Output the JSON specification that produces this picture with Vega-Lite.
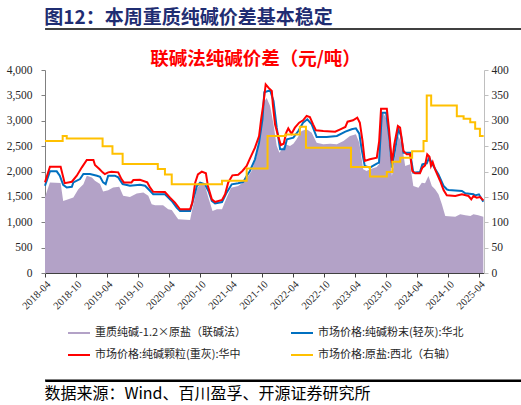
{
  "$schema": "https://vega.github.io/schema/vega-lite/v6.json",
  "padding": {"left": 6, "top": 8, "right": 4, "bottom": 4},
  "columns": 1,
  "align": "none",
  "spacing": 18,
  "resolve": {"scale": {"color": "independent", "y": "independent"}, "legend": {"color": "independent"}},
  "config": {
    "view": {"stroke": null},
    "font": "Noto Sans CJK SC",
    "title": {"font": "Noto Sans CJK SC"},
    "axis": {"labelFont": "Liberation Serif", "labelColor": "#262626", "grid": false, "tickSize": 4}
  },
  "datasets": {
    "heavy": [
      {"d": "2018-04-01", "v": 1500}, {"d": "2018-04-30", "v": 1785}, {"d": "2018-07-02", "v": 1771}, {"d": "2018-07-17", "v": 1421},
      {"d": "2018-08-16", "v": 1454}, {"d": "2018-09-15", "v": 1487}, {"d": "2018-10-14", "v": 1652}, {"d": "2018-11-13", "v": 1751},
      {"d": "2018-12-03", "v": 1917}, {"d": "2019-01-02", "v": 1884}, {"d": "2019-01-20", "v": 1818}, {"d": "2019-02-19", "v": 1752},
      {"d": "2019-03-09", "v": 1606}, {"d": "2019-04-08", "v": 1633}, {"d": "2019-05-07", "v": 1686}, {"d": "2019-06-12", "v": 1699},
      {"d": "2019-07-05", "v": 1520}, {"d": "2019-08-14", "v": 1500}, {"d": "2019-09-23", "v": 1567}, {"d": "2019-11-01", "v": 1586},
      {"d": "2019-11-30", "v": 1520}, {"d": "2019-12-20", "v": 1355}, {"d": "2020-01-09", "v": 1333}, {"d": "2020-02-25", "v": 1333},
      {"d": "2020-03-26", "v": 1254}, {"d": "2020-04-16", "v": 1241}, {"d": "2020-05-24", "v": 1057}, {"d": "2020-08-02", "v": 1044},
      {"d": "2020-08-15", "v": 1254}, {"d": "2020-09-11", "v": 1649}, {"d": "2020-10-06", "v": 1793}, {"d": "2020-10-29", "v": 1714},
      {"d": "2020-11-18", "v": 1484}, {"d": "2020-12-12", "v": 1222}, {"d": "2021-01-07", "v": 1254}, {"d": "2021-02-06", "v": 1254},
      {"d": "2021-03-05", "v": 1484}, {"d": "2021-03-31", "v": 1681}, {"d": "2021-05-12", "v": 1714}, {"d": "2021-06-21", "v": 1813},
      {"d": "2021-07-30", "v": 2010}, {"d": "2021-08-29", "v": 2305}, {"d": "2021-09-24", "v": 2896}, {"d": "2021-10-07", "v": 3356},
      {"d": "2021-10-27", "v": 3450}, {"d": "2021-11-16", "v": 3290}, {"d": "2021-12-06", "v": 2929}, {"d": "2021-12-25", "v": 2502},
      {"d": "2022-01-10", "v": 2371}, {"d": "2022-01-24", "v": 2437}, {"d": "2022-02-13", "v": 2535}, {"d": "2022-03-13", "v": 2502},
      {"d": "2022-04-02", "v": 2548}, {"d": "2022-04-21", "v": 2634}, {"d": "2022-05-20", "v": 2798}, {"d": "2022-06-19", "v": 2831},
      {"d": "2022-07-19", "v": 2765}, {"d": "2022-08-17", "v": 2568}, {"d": "2022-09-25", "v": 2535}, {"d": "2022-11-05", "v": 2548},
      {"d": "2022-12-14", "v": 2535}, {"d": "2023-01-22", "v": 2601}, {"d": "2023-03-01", "v": 2700}, {"d": "2023-04-05", "v": 2732},
      {"d": "2023-04-25", "v": 2568}, {"d": "2023-05-18", "v": 2043}, {"d": "2023-06-07", "v": 2010}, {"d": "2023-06-26", "v": 2043},
      {"d": "2023-08-06", "v": 2089}, {"d": "2023-08-19", "v": 2141}, {"d": "2023-08-31", "v": 3050}, {"d": "2023-09-14", "v": 3150},
      {"d": "2023-10-04", "v": 3020}, {"d": "2023-10-17", "v": 2502}, {"d": "2023-11-03", "v": 1911}, {"d": "2023-11-22", "v": 2305},
      {"d": "2023-12-11", "v": 2700}, {"d": "2024-01-01", "v": 2535}, {"d": "2024-01-20", "v": 2108}, {"d": "2024-02-18", "v": 2141},
      {"d": "2024-03-08", "v": 1714}, {"d": "2024-04-07", "v": 1681}, {"d": "2024-04-27", "v": 1780}, {"d": "2024-05-16", "v": 1767},
      {"d": "2024-06-05", "v": 1911}, {"d": "2024-06-25", "v": 1714}, {"d": "2024-07-14", "v": 1649}, {"d": "2024-08-03", "v": 1550},
      {"d": "2024-08-23", "v": 1353}, {"d": "2024-09-12", "v": 1123}, {"d": "2024-11-10", "v": 1110}, {"d": "2024-12-09", "v": 1156},
      {"d": "2025-01-08", "v": 1136}, {"d": "2025-02-07", "v": 1123}, {"d": "2025-02-25", "v": 1156}, {"d": "2025-03-25", "v": 1136},
      {"d": "2025-04-24", "v": 1110}
    ],
    "light": [
      {"d": "2018-04-01", "v": 1719}, {"d": "2018-04-30", "v": 2003}, {"d": "2018-06-09", "v": 2003}, {"d": "2018-06-27", "v": 1917},
      {"d": "2018-07-17", "v": 1738}, {"d": "2018-08-07", "v": 1686}, {"d": "2018-09-06", "v": 1699}, {"d": "2018-09-15", "v": 1785},
      {"d": "2018-10-24", "v": 1851}, {"d": "2018-11-13", "v": 1950}, {"d": "2018-12-22", "v": 1950}, {"d": "2019-02-01", "v": 1917},
      {"d": "2019-02-19", "v": 1897}, {"d": "2019-03-09", "v": 1785}, {"d": "2019-03-24", "v": 1752}, {"d": "2019-04-08", "v": 1917},
      {"d": "2019-05-17", "v": 1917}, {"d": "2019-06-06", "v": 1884}, {"d": "2019-07-02", "v": 1752}, {"d": "2019-08-14", "v": 1719},
      {"d": "2019-10-12", "v": 1738}, {"d": "2019-11-11", "v": 1719}, {"d": "2019-12-10", "v": 1620}, {"d": "2019-12-29", "v": 1553},
      {"d": "2020-03-07", "v": 1550}, {"d": "2020-04-16", "v": 1419}, {"d": "2020-05-15", "v": 1287}, {"d": "2020-06-04", "v": 1222},
      {"d": "2020-08-02", "v": 1222}, {"d": "2020-08-21", "v": 1452}, {"d": "2020-09-11", "v": 1714}, {"d": "2020-09-30", "v": 1780},
      {"d": "2020-10-29", "v": 1747}, {"d": "2020-11-18", "v": 1616}, {"d": "2020-12-08", "v": 1419}, {"d": "2020-12-27", "v": 1373},
      {"d": "2021-02-06", "v": 1399}, {"d": "2021-03-05", "v": 1583}, {"d": "2021-04-04", "v": 1747}, {"d": "2021-05-12", "v": 1767},
      {"d": "2021-06-11", "v": 1793}, {"d": "2021-07-01", "v": 1911}, {"d": "2021-07-20", "v": 2010}, {"d": "2021-08-19", "v": 2240},
      {"d": "2021-09-12", "v": 2568}, {"d": "2021-10-02", "v": 3028}, {"d": "2021-10-13", "v": 3560}, {"d": "2021-11-16", "v": 3600},
      {"d": "2021-12-06", "v": 3389}, {"d": "2021-12-25", "v": 2864}, {"d": "2022-01-14", "v": 2437}, {"d": "2022-02-08", "v": 2437},
      {"d": "2022-02-23", "v": 2634}, {"d": "2022-04-02", "v": 2667}, {"d": "2022-05-01", "v": 2798}, {"d": "2022-05-29", "v": 2962},
      {"d": "2022-06-23", "v": 3028}, {"d": "2022-07-19", "v": 2929}, {"d": "2022-08-17", "v": 2680}, {"d": "2022-10-15", "v": 2680},
      {"d": "2022-12-14", "v": 2700}, {"d": "2023-02-02", "v": 2785}, {"d": "2023-03-11", "v": 2831}, {"d": "2023-04-05", "v": 2850},
      {"d": "2023-04-25", "v": 2745}, {"d": "2023-05-09", "v": 2437}, {"d": "2023-05-27", "v": 2108}, {"d": "2023-06-26", "v": 2075},
      {"d": "2023-08-06", "v": 2154}, {"d": "2023-08-19", "v": 2174}, {"d": "2023-09-05", "v": 3159}, {"d": "2023-09-30", "v": 3159},
      {"d": "2023-10-17", "v": 2700}, {"d": "2023-11-03", "v": 2075}, {"d": "2023-11-22", "v": 2437}, {"d": "2023-12-11", "v": 2831},
      {"d": "2023-12-27", "v": 2700}, {"d": "2024-01-10", "v": 2371}, {"d": "2024-02-18", "v": 2371}, {"d": "2024-03-08", "v": 1977},
      {"d": "2024-04-16", "v": 1990}, {"d": "2024-04-30", "v": 2141}, {"d": "2024-05-26", "v": 2161}, {"d": "2024-06-09", "v": 2272},
      {"d": "2024-07-04", "v": 2108}, {"d": "2024-08-03", "v": 1944}, {"d": "2024-09-02", "v": 1714}, {"d": "2024-09-21", "v": 1649},
      {"d": "2024-10-01", "v": 1635}, {"d": "2024-12-19", "v": 1616}, {"d": "2025-01-08", "v": 1570}, {"d": "2025-02-25", "v": 1550},
      {"d": "2025-03-06", "v": 1530}, {"d": "2025-03-29", "v": 1550}, {"d": "2025-04-10", "v": 1484}, {"d": "2025-04-24", "v": 1406}
    ],
    "dense": [
      {"d": "2018-04-01", "v": 1785}, {"d": "2018-04-30", "v": 2095}, {"d": "2018-07-02", "v": 2095}, {"d": "2018-07-26", "v": 1771},
      {"d": "2018-09-06", "v": 1798}, {"d": "2018-10-05", "v": 1917}, {"d": "2018-11-04", "v": 2082}, {"d": "2018-12-03", "v": 2228},
      {"d": "2019-01-11", "v": 2228}, {"d": "2019-01-20", "v": 2128}, {"d": "2019-02-15", "v": 2049}, {"d": "2019-03-06", "v": 1983},
      {"d": "2019-03-19", "v": 1950}, {"d": "2019-04-08", "v": 1983}, {"d": "2019-04-27", "v": 1996}, {"d": "2019-06-06", "v": 1983},
      {"d": "2019-06-25", "v": 1851}, {"d": "2019-07-09", "v": 1785}, {"d": "2019-08-23", "v": 1785}, {"d": "2019-09-03", "v": 1831},
      {"d": "2019-10-12", "v": 1838}, {"d": "2019-11-24", "v": 1785}, {"d": "2019-12-10", "v": 1686}, {"d": "2019-12-29", "v": 1600},
      {"d": "2020-03-07", "v": 1596}, {"d": "2020-04-06", "v": 1484}, {"d": "2020-05-05", "v": 1386}, {"d": "2020-06-04", "v": 1254},
      {"d": "2020-08-02", "v": 1254}, {"d": "2020-08-15", "v": 1386}, {"d": "2020-09-01", "v": 1780}, {"d": "2020-09-17", "v": 1944},
      {"d": "2020-10-10", "v": 1997}, {"d": "2020-11-03", "v": 1964}, {"d": "2020-11-15", "v": 1714}, {"d": "2020-12-08", "v": 1452},
      {"d": "2020-12-27", "v": 1399}, {"d": "2021-02-06", "v": 1438}, {"d": "2021-02-24", "v": 1550}, {"d": "2021-03-14", "v": 1780},
      {"d": "2021-04-08", "v": 1924}, {"d": "2021-05-12", "v": 1937}, {"d": "2021-06-06", "v": 2010}, {"d": "2021-07-01", "v": 2108},
      {"d": "2021-07-20", "v": 2253}, {"d": "2021-08-19", "v": 2470}, {"d": "2021-09-12", "v": 2699}, {"d": "2021-09-24", "v": 3028},
      {"d": "2021-10-07", "v": 3323}, {"d": "2021-10-21", "v": 3717}, {"d": "2021-11-06", "v": 3652}, {"d": "2021-11-26", "v": 3586},
      {"d": "2021-12-02", "v": 3323}, {"d": "2021-12-15", "v": 2929}, {"d": "2022-01-05", "v": 2667}, {"d": "2022-01-18", "v": 2522},
      {"d": "2022-02-04", "v": 2548}, {"d": "2022-02-19", "v": 2765}, {"d": "2022-03-03", "v": 2850}, {"d": "2022-03-22", "v": 2745},
      {"d": "2022-04-11", "v": 2864}, {"d": "2022-05-06", "v": 2962}, {"d": "2022-05-29", "v": 3008}, {"d": "2022-06-19", "v": 3094},
      {"d": "2022-07-08", "v": 3074}, {"d": "2022-07-27", "v": 2929}, {"d": "2022-08-13", "v": 2811}, {"d": "2022-09-25", "v": 2798},
      {"d": "2022-12-04", "v": 2785}, {"d": "2023-01-03", "v": 2831}, {"d": "2023-02-02", "v": 2877}, {"d": "2023-02-15", "v": 2982},
      {"d": "2023-03-19", "v": 3008}, {"d": "2023-04-13", "v": 3061}, {"d": "2023-04-28", "v": 2962}, {"d": "2023-05-14", "v": 2601},
      {"d": "2023-05-27", "v": 2207}, {"d": "2023-06-26", "v": 2240}, {"d": "2023-08-06", "v": 2272}, {"d": "2023-08-20", "v": 2600},
      {"d": "2023-08-31", "v": 3238}, {"d": "2023-10-04", "v": 3238}, {"d": "2023-10-17", "v": 2831}, {"d": "2023-11-03", "v": 2161},
      {"d": "2023-11-17", "v": 2535}, {"d": "2023-12-08", "v": 2896}, {"d": "2023-12-21", "v": 2864}, {"d": "2024-01-10", "v": 2404},
      {"d": "2024-01-29", "v": 2338}, {"d": "2024-02-18", "v": 2338}, {"d": "2024-03-02", "v": 2010}, {"d": "2024-03-18", "v": 1964},
      {"d": "2024-04-16", "v": 1964}, {"d": "2024-04-30", "v": 2075}, {"d": "2024-05-16", "v": 2121}, {"d": "2024-05-29", "v": 2338},
      {"d": "2024-06-11", "v": 2292}, {"d": "2024-06-20", "v": 2108}, {"d": "2024-06-30", "v": 2187}, {"d": "2024-07-14", "v": 2043},
      {"d": "2024-08-13", "v": 1813}, {"d": "2024-09-02", "v": 1635}, {"d": "2024-09-21", "v": 1530}, {"d": "2024-11-10", "v": 1517},
      {"d": "2024-12-19", "v": 1550}, {"d": "2025-01-27", "v": 1517}, {"d": "2025-02-12", "v": 1451}, {"d": "2025-02-25", "v": 1517},
      {"d": "2025-03-16", "v": 1484}, {"d": "2025-04-05", "v": 1497}, {"d": "2025-04-24", "v": 1432}
    ],
    "salt": [
      {"d": "2018-04-01", "v": 260}, {"d": "2018-07-14", "v": 270}, {"d": "2018-08-07", "v": 265}, {"d": "2019-03-06", "v": 250},
      {"d": "2019-05-03", "v": 235}, {"d": "2019-07-02", "v": 215}, {"d": "2020-01-25", "v": 205}, {"d": "2020-03-07", "v": 194},
      {"d": "2020-04-16", "v": 175}, {"d": "2021-02-06", "v": 182}, {"d": "2021-07-01", "v": 206}, {"d": "2021-11-01", "v": 270},
      {"d": "2022-02-13", "v": 273}, {"d": "2022-05-10", "v": 288}, {"d": "2022-06-15", "v": 247}, {"d": "2023-03-07", "v": 209},
      {"d": "2023-06-27", "v": 190}, {"d": "2023-10-04", "v": 199}, {"d": "2023-11-06", "v": 219}, {"d": "2023-12-22", "v": 227},
      {"d": "2024-03-01", "v": 240}, {"d": "2024-05-07", "v": 260}, {"d": "2024-05-26", "v": 350}, {"d": "2024-06-21", "v": 330},
      {"d": "2024-11-19", "v": 309}, {"d": "2024-12-29", "v": 304}, {"d": "2025-02-06", "v": 297}, {"d": "2025-03-07", "v": 284},
      {"d": "2025-04-04", "v": 270}, {"d": "2025-04-26", "v": 270}
    ]
  },
  "concat": [
    {
      "width": 510,
      "height": 1,
      "view": {"stroke": "#404040", "strokeWidth": 1},
      "title": {"text": "图12：本周重质纯碱价差基本稳定", "anchor": "start", "fontSize": 19, "fontWeight": "bold", "color": "#1f2d72", "offset": 0},
      "data": {"values": [{"k": 0}]},
      "mark": {"type": "rule", "color": "#404040", "strokeWidth": 1.5},
      "encoding": {"y": {"field": "k", "type": "quantitative", "scale": {"domain": [0, 1]}, "axis": null}}
    },
    {
      "width": 439,
      "height": 203,
      "title": {"text": "联碱法纯碱价差（元/吨）", "anchor": "middle", "frame": "group", "fontSize": 18.5, "fontWeight": "bold", "color": "#ff0000", "offset": -4, "dx": -9},
      "encoding": {
        "x": {
          "field": "d",
          "type": "temporal",
          "scale": {"type": "utc", "domain": [{"year": 2018, "month": 4, "date": 1, "utc": true}, {"year": 2025, "month": 4, "date": 28, "utc": true}]},
          "axis": {
            "title": null,
            "format": "%Y-%m",
            "labelAngle": -45,
            "labelFontSize": 10.5,
            "labelOverlap": false,
            "domainColor": "#404040",
            "tickColor": "#404040",
            "values": [
              {"year": 2018, "month": 4, "date": 1, "utc": true}, {"year": 2018, "month": 10, "date": 1, "utc": true},
              {"year": 2019, "month": 4, "date": 1, "utc": true}, {"year": 2019, "month": 10, "date": 1, "utc": true},
              {"year": 2020, "month": 4, "date": 1, "utc": true}, {"year": 2020, "month": 10, "date": 1, "utc": true},
              {"year": 2021, "month": 4, "date": 1, "utc": true}, {"year": 2021, "month": 10, "date": 1, "utc": true},
              {"year": 2022, "month": 4, "date": 1, "utc": true}, {"year": 2022, "month": 10, "date": 1, "utc": true},
              {"year": 2023, "month": 4, "date": 1, "utc": true}, {"year": 2023, "month": 10, "date": 1, "utc": true},
              {"year": 2024, "month": 4, "date": 1, "utc": true}, {"year": 2024, "month": 10, "date": 1, "utc": true},
              {"year": 2025, "month": 4, "date": 1, "utc": true}
            ]
          }
        }
      },
      "layer": [
        {
          "encoding": {
            "y": {
              "field": "v",
              "type": "quantitative",
              "scale": {"domain": [0, 4000]},
              "axis": {"title": null, "format": ",.0f", "values": [0, 500, 1000, 1500, 2000, 2500, 3000, 3500, 4000], "labelFontSize": 11.5, "labelPadding": 9, "domainColor": "#808080", "tickColor": "#808080"}
            }
          },
          "layer": [
            {
              "data": {"name": "heavy"},
              "mark": {"type": "area", "opacity": 1},
              "encoding": {
                "color": {
                  "datum": "重质纯碱-1.2×原盐（联碱法）",
                  "scale": {
                    "domain": ["重质纯碱-1.2×原盐（联碱法）", "市场价格:纯碱粉末(轻灰):华北", "市场价格:纯碱颗粒(重灰):华中", "市场价格:原盐:西北（右轴）"],
                    "range": ["#b3a2c7", "#0070c0", "#ff0000", "#ffc000"]
                  },
                  "legend": {
                    "title": null,
                    "orient": "none",
                    "direction": "horizontal",
                    "legendX": 22,
                    "legendY": 251,
                    "columns": 2,
                    "symbolType": "stroke",
                    "symbolSize": 484,
                    "symbolStrokeWidth": 2,
                    "labelFont": "Noto Sans CJK SC",
                    "labelFontSize": 11,
                    "labelColor": "#262626",
                    "labelLimit": 300,
                    "labelOffset": 4,
                    "columnPadding": 40,
                    "rowPadding": 5,
                    "encode": {
                      "symbols": {
                        "update": {
                          "stroke": {"scale": "color", "field": "value"},
                          "strokeWidth": [{"test": "datum.value === '重质纯碱-1.2×原盐（联碱法）'", "value": 6}, {"value": 2}]
                        }
                      }
                    }
                  }
                }
              }
            },
            {
              "data": {"name": "light"},
              "mark": {"type": "line", "strokeWidth": 2},
              "encoding": {"color": {"datum": "市场价格:纯碱粉末(轻灰):华北"}}
            },
            {
              "data": {"name": "dense"},
              "mark": {"type": "line", "strokeWidth": 2},
              "encoding": {"color": {"datum": "市场价格:纯碱颗粒(重灰):华中"}}
            }
          ]
        },
        {
          "data": {"name": "salt"},
          "mark": {"type": "line", "interpolate": "step-after", "strokeWidth": 2},
          "encoding": {
            "y": {
              "field": "v",
              "type": "quantitative",
              "scale": {"domain": [0, 400]},
              "axis": {"title": null, "orient": "right", "values": [0, 50, 100, 150, 200, 250, 300, 350, 400], "labelFontSize": 11.5, "labelPadding": 3, "domainColor": "#bfbfbf", "tickColor": "#bfbfbf"}
            },
            "color": {"datum": "市场价格:原盐:西北（右轴）"}
          }
        }
      ],
      "resolve": {"scale": {"y": "independent"}}
    },
    {
      "width": 510,
      "height": 1,
      "view": {"stroke": "#000000", "strokeWidth": 1},
      "title": {"text": "数据来源：Wind、百川盈孚、开源证券研究所", "orient": "bottom", "anchor": "start", "fontSize": 16, "fontWeight": "normal", "color": "#000000", "offset": 5},
      "data": {"values": [{"k": 1}]},
      "mark": {"type": "rule", "color": "#000000", "strokeWidth": 1.2},
      "encoding": {"y": {"field": "k", "type": "quantitative", "scale": {"domain": [0, 1]}, "axis": null}}
    }
  ]
}
